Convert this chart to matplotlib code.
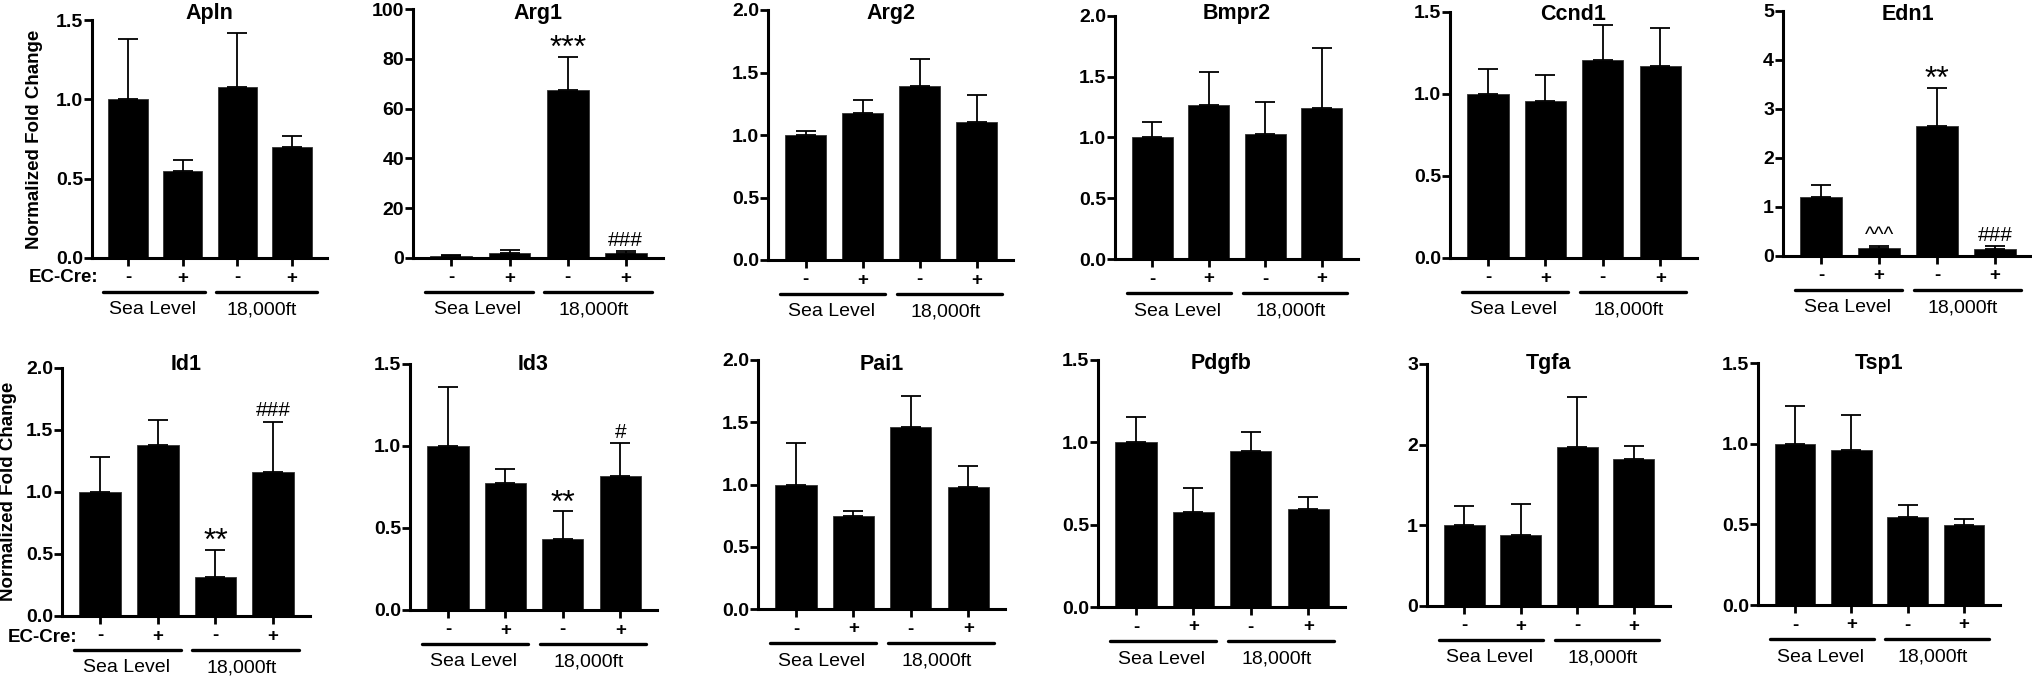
import matplotlib.pyplot as plt
import numpy as np
from matplotlib.ticker import MultipleLocator, FormatStrFormatter

plt.rcParams['font.family'] = ['Liberation Sans', 'DejaVu Sans']

# Figure size in pixels
W, H = 2032, 686
PT = 72 / 100  # pixels -> points at dpi 100

# Data
genes = ['Apln', 'Arg1', 'Arg2', 'Bmpr2', 'Ccnd1', 'Edn1',
         'Id1', 'Id3', 'Pai1', 'Pdgfb', 'Tgfa', 'Tsp1']
ec_cre = ['-', '+', '-', '+']
groups = ['Sea Level', '18,000ft']

apln_mean = [1.0, 0.55, 1.08, 0.70]
apln_err = [0.38, 0.065, 0.34, 0.07]
arg1_mean = [1.0, 2.0, 67.6, 1.9]
arg1_err = [0.3, 1.3, 13.0, 0.8]
arg2_mean = [1.0, 1.18, 1.395, 1.105]
arg2_err = [0.03, 0.10, 0.215, 0.215]
bmpr2_mean = [1.0, 1.265, 1.03, 1.245]
bmpr2_err = [0.13, 0.275, 0.26, 0.495]
ccnd1_mean = [1.0, 0.957, 1.206, 1.172]
ccnd1_err = [0.15, 0.16, 0.217, 0.228]
edn1_mean = [1.196, 0.156, 2.656, 0.15]
edn1_err = [0.25, 0.045, 0.775, 0.05]
id1_mean = [1.0, 1.376, 0.318, 1.16]
id1_err = [0.284, 0.207, 0.215, 0.407]
id3_mean = [1.0, 0.776, 0.431, 0.819]
id3_err = [0.362, 0.086, 0.17, 0.197]
pai1_mean = [1.0, 0.744, 1.463, 0.983]
pai1_err = [0.33, 0.04, 0.25, 0.166]
pdgfb_mean = [1.0, 0.574, 0.948, 0.598]
pdgfb_err = [0.155, 0.146, 0.117, 0.073]
tgfa_mean = [1.0, 0.886, 1.974, 1.825]
tgfa_err = [0.24, 0.384, 0.616, 0.161]
tsp1_mean = [1.0, 0.961, 0.545, 0.493]
tsp1_err = [0.236, 0.217, 0.076, 0.043]

# Significance marks
no_marks = ['', '', '', '']
arg1_marks = ['', '', '***', '###']
edn1_marks = ['', '^^^', '**', '###']
id1_marks = ['', '', '**', '###']
id3_marks = ['', '', '**', '#']

means = [apln_mean, arg1_mean, arg2_mean, bmpr2_mean, ccnd1_mean, edn1_mean,
         id1_mean, id3_mean, pai1_mean, pdgfb_mean, tgfa_mean, tsp1_mean]
errs = [apln_err, arg1_err, arg2_err, bmpr2_err, ccnd1_err, edn1_err,
        id1_err, id3_err, pai1_err, pdgfb_err, tgfa_err, tsp1_err]
marks = [no_marks, arg1_marks, no_marks, no_marks, no_marks, edn1_marks,
         id1_marks, id3_marks, no_marks, no_marks, no_marks, no_marks]

# Axis scales: (ymax, tick step, format)
scales = [(1.5, 0.5, '%.1f'), (100, 20, '%d'), (2.0, 0.5, '%.1f'), (2.0, 0.5, '%.1f'),
          (1.5, 0.5, '%.1f'), (5, 1, '%d'), (2.0, 0.5, '%.1f'), (1.5, 0.5, '%.1f'),
          (2.0, 0.5, '%.1f'), (1.5, 0.5, '%.1f'), (3, 1, '%d'), (1.5, 0.5, '%.1f')]

# Axes boxes in pixels: left, right, top, bottom
boxes = [(92, 327, 20, 258), (413, 663, 9, 258), (768, 1013, 10, 260),
         (1115, 1358, 16, 259), (1450, 1697, 12, 258), (1783, 2032, 11, 256),
         (62, 310, 368, 616), (410, 657, 364, 610), (758, 1005, 360, 609),
         (1098, 1345, 360, 607), (1427, 1670, 364, 606), (1758, 2000, 363, 605)]

fig = plt.figure(figsize=(W / 100, H / 100), dpi=100)
x = np.arange(4)

for i, gene in enumerate(genes):
    l, r, t, b = boxes[i]
    ax = fig.add_axes([l / W, 1 - b / H, (r - l) / W, (b - t) / H])
    hpx = b - t
    ymax, step, fmt = scales[i]

    ax.bar(x, means[i], width=0.72, color='black', edgecolor='#333333', linewidth=0.6)
    ax.errorbar(x, means[i], yerr=[np.zeros(4), errs[i]], fmt='none', ecolor='black',
                elinewidth=1.3, capsize=7, capthick=1.3, clip_on=False)

    ax.set_xlim(-0.66, 3.64)
    ax.set_ylim(0, ymax)
    ax.yaxis.set_major_locator(MultipleLocator(step))
    ax.yaxis.set_major_formatter(FormatStrFormatter(fmt))
    ax.set_xticks(x)
    ax.set_xticklabels([])
    for side in ['top', 'right']:
        ax.spines[side].set_visible(False)
    for side in ['left', 'bottom']:
        ax.spines[side].set_linewidth(2.2)
    ax.tick_params(direction='out', length=6, width=2, labelsize=14)
    for lab in ax.get_yticklabels():
        lab.set_fontweight('bold')
    ax.tick_params(axis='y', pad=0.5)

    # title
    fig.text((l + r) / 2 / W, 1 - (14 if i < 6 else 364) / H, gene,
             ha='center', va='center', fontsize=15.5, fontweight='bold')

    # EC-Cre signs
    xt = ax.get_xaxis_transform()
    for j, s in enumerate(ec_cre):
        ax.annotate(s, xy=(j, 0), xycoords=xt, xytext=(0, -20 * PT), textcoords='offset points',
                    ha='center', va='center', fontsize=13.5, fontweight='bold')

    # group lines and labels
    yl = -34 / hpx
    ax.plot([-0.45, 1.4], [yl, yl], color='black', lw=2.4, transform=xt, clip_on=False,
            solid_capstyle='round')
    ax.plot([1.6, 3.45], [yl, yl], color='black', lw=2.4, transform=xt, clip_on=False,
            solid_capstyle='round')
    for gx, g in zip([0.45, 2.45], groups):
        ax.annotate(g, xy=(gx, 0), xycoords=xt, xytext=(0, -52 * PT), textcoords='offset points',
                    ha='center', va='center', fontsize=14)

    # significance marks
    for j, m in enumerate(marks[i]):
        if not m:
            continue
        top = means[i][j] + errs[i][j]
        if '*' in m:
            ax.annotate(m, xy=(j, top), xytext=(0, 0), textcoords='offset points',
                        ha='center', va='baseline', fontsize=23)
        else:
            ax.annotate(m, xy=(j, top), xytext=(0, 4), textcoords='offset points',
                        ha='center', va='baseline', fontsize=15)

# y labels and EC-Cre labels
fig.text(35 / W, 1 - 139 / H, 'Normalized Fold Change', rotation=90, ha='center', va='center',
         fontsize=13.5, fontweight='bold')
fig.text(9 / W, 1 - 491 / H, 'Normalized Fold Change', rotation=90, ha='center', va='center',
         fontsize=13.5, fontweight='bold')
fig.text(98 / W, 1 - 277 / H, 'EC-Cre:', ha='right', va='center', fontsize=13.5, fontweight='bold')
fig.text(77 / W, 1 - 637 / H, 'EC-Cre:', ha='right', va='center', fontsize=13.5, fontweight='bold')

fig.savefig('out.png', dpi=100)
